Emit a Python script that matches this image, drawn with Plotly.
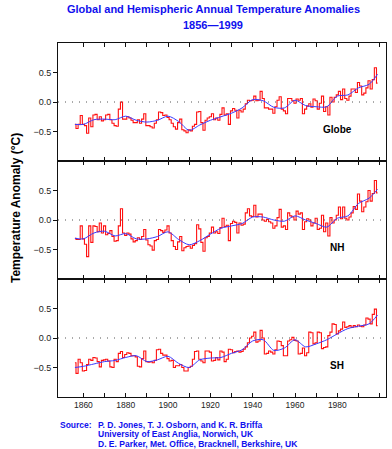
import plotly.graph_objects as go

YEARS = list(range(1856, 2000))

GLOBE = [-0.38, -0.45, -0.38, -0.23, -0.38, -0.40, -0.53, -0.27, -0.42, -0.22,
         -0.21, -0.30, -0.25, -0.32, -0.30, -0.22, -0.21, -0.30, -0.36, -0.40,
         -0.41, -0.12, 0.00, -0.29, -0.29, -0.25, -0.27, -0.31, -0.35, -0.35,
         -0.30, -0.36, -0.29, -0.20, -0.40, -0.40, -0.42, -0.44, -0.36, -0.30,
         -0.17, -0.18, -0.23, -0.22, -0.26, -0.30, -0.36, -0.42, -0.46, -0.35,
         -0.29, -0.47, -0.49, -0.52, -0.47, -0.49, -0.41, -0.38, -0.17, -0.16,
         -0.35, -0.48, -0.31, -0.27, -0.25, -0.20, -0.30, -0.27, -0.31, -0.21,
         -0.10, -0.22, -0.20, -0.38, -0.15, -0.11, -0.14, -0.27, -0.14, -0.17,
         -0.12, -0.03, 0.03, 0.02, 0.03, 0.10, 0.02, 0.03, 0.18, 0.06,
         -0.10, -0.10, -0.12, -0.12, -0.19, -0.08, 0.03, 0.09, -0.12, -0.15,
         -0.20, 0.06, 0.06, 0.02, -0.02, 0.05, 0.03, 0.06, -0.20, -0.12,
         -0.07, -0.03, -0.09, 0.05, 0.02, -0.12, -0.02, 0.10, -0.16, -0.08,
         -0.22, 0.08, 0.00, 0.08, 0.12, 0.18, 0.04, 0.22, 0.06, 0.03,
         0.10, 0.22, 0.22, 0.16, 0.33, 0.27, 0.12, 0.15, 0.24, 0.36,
         0.22, 0.38, 0.58, 0.32]

NH = [-0.31, -0.33, -0.33, -0.10, -0.32, -0.41, -0.62, -0.10, -0.38, -0.10,
      -0.11, -0.20, -0.05, -0.22, -0.10, -0.25, -0.23, -0.18, -0.28, -0.36,
      -0.35, -0.10, 0.19, -0.22, -0.26, -0.22, -0.24, -0.32, -0.37, -0.35,
      -0.30, -0.33, -0.28, -0.16, -0.34, -0.42, -0.44, -0.51, -0.35, -0.33,
      -0.16, -0.18, -0.21, -0.17, -0.10, -0.22, -0.35, -0.45, -0.50, -0.37,
      -0.28, -0.52, -0.47, -0.45, -0.44, -0.48, -0.43, -0.40, -0.08, -0.15,
      -0.38, -0.53, -0.30, -0.28, -0.22, -0.12, -0.22, -0.20, -0.23, -0.13,
      0.03, -0.11, -0.09, -0.35, -0.06, -0.02, -0.04, -0.22, -0.05, -0.09,
      -0.07, 0.12, 0.19, 0.07, 0.06, 0.25, 0.05, 0.10, 0.10, 0.00,
      -0.02, 0.01, -0.03, -0.05, -0.14, -0.10, 0.04, 0.18, -0.12, -0.10,
      -0.16, 0.12, 0.07, 0.05, 0.00, 0.15, 0.10, 0.12, -0.16, -0.03,
      0.02, 0.00, -0.10, -0.05, 0.03, -0.16, -0.14, 0.08, -0.20, -0.05,
      -0.27, 0.04, -0.05, 0.00, 0.08, 0.22, 0.02, 0.22, 0.03, 0.00,
      0.05, 0.12, 0.23, 0.18, 0.44, 0.32, 0.14, 0.22, 0.31, 0.50,
      0.32, 0.45, 0.67, 0.46]

SH = [-0.42, -0.60, -0.36, -0.42, -0.56, -0.55, -0.45, -0.36, -0.38, -0.33,
      -0.34, -0.40, -0.49, -0.38, -0.37, -0.36, -0.39, -0.49, -0.50, -0.36,
      -0.40, -0.26, -0.23, -0.33, -0.28, -0.25, -0.26, -0.30, -0.30, -0.32,
      -0.48, -0.49, -0.35, -0.22, -0.40, -0.41, -0.40, -0.42, -0.38, -0.20,
      -0.19, -0.26, -0.29, -0.29, -0.35, -0.39, -0.38, -0.50, -0.47, -0.47,
      -0.45, -0.50, -0.56, -0.56, -0.50, -0.48, -0.36, -0.23, -0.22, -0.36,
      -0.39, -0.42, -0.22, -0.22, -0.24, -0.39, -0.38, -0.33, -0.37, -0.22,
      -0.24, -0.40, -0.36, -0.19, -0.20, -0.25, -0.23, -0.22, -0.24, -0.23,
      -0.19, -0.15, -0.08, 0.00, 0.03, 0.10, -0.07, -0.05, 0.13, 0.00,
      -0.27, -0.26, -0.22, -0.24, -0.27, -0.20, -0.05, -0.06, -0.13, -0.30,
      -0.30, -0.05, -0.03, 0.01, -0.04, -0.05, -0.27, -0.26, -0.17, -0.30,
      -0.25, 0.10, 0.09, -0.10, -0.08, 0.10, 0.09, -0.18, -0.16, -0.15,
      0.04, 0.10, 0.24, 0.23, 0.07, 0.12, 0.15, 0.27, 0.18, 0.19,
      0.21, 0.18, 0.21, 0.19, 0.22, 0.20, 0.19, 0.22, 0.34, 0.32,
      0.24, 0.40, 0.49, 0.21]

SMOOTH_YEARS = [1856, 1860, 1865, 1870, 1875, 1880, 1885, 1890, 1895, 1900,
                1905, 1910, 1915, 1920, 1925, 1930, 1935, 1940, 1945, 1950,
                1955, 1960, 1965, 1970, 1975, 1980, 1985, 1990, 1995, 1999]
GLOBE_SMOOTH = [-0.38, -0.38, -0.30, -0.29, -0.30, -0.24, -0.31, -0.34, -0.31, -0.24,
                -0.33, -0.48, -0.39, -0.31, -0.25, -0.19, -0.10, 0.04, 0.02, -0.09,
                -0.10, 0.03, -0.06, -0.08, -0.08, 0.10, 0.12, 0.24, 0.30, 0.47]
NH_SMOOTH = [-0.31, -0.32, -0.22, -0.19, -0.27, -0.23, -0.32, -0.32, -0.28, -0.20,
             -0.33, -0.42, -0.35, -0.24, -0.14, -0.10, -0.06, 0.05, 0.05, 0.00,
             -0.02, 0.07, 0.00, -0.06, -0.12, 0.03, 0.07, 0.28, 0.37, 0.52]
SH_SMOOTH = [-0.50, -0.48, -0.44, -0.40, -0.38, -0.33, -0.30, -0.40, -0.37, -0.31,
             -0.43, -0.50, -0.37, -0.34, -0.33, -0.26, -0.20, -0.05, -0.03, -0.21,
             -0.17, -0.03, -0.15, -0.10, -0.03, 0.07, 0.16, 0.20, 0.24, 0.39]

PANELS = ["Globe", "NH", "SH"]
X_TICKS = [1860, 1870, 1880, 1890, 1900, 1910, 1920, 1930, 1940, 1950, 1960, 1970, 1980, 1990, 2000]
X_LABELS = ["1860", "", "1880", "", "1900", "", "1920", "", "1940", "", "1960", "", "1980", "", ""]
Y_TICKS = [-0.5, 0.0, 0.5]
Y_LABELS = ["\u22120.5", "0.0", "0.5"]
TITLE_LINES = ["Global and Hemispheric Annual Temperature Anomalies", "1856\u20141999"]
Y_TITLE = "Temperature Anomaly (\u00b0C)"
SOURCE_HEAD = "Source:"
SOURCE_LINES = ["P. D. Jones, T. J. Osborn, and K. R. Briffa",
                "University of East Anglia, Norwich, UK",
                "D. E. Parker, Met. Office, Bracknell, Berkshire, UK"]

FONT = "Liberation Sans, Arial, sans-serif"
RED = "#ff1010"
BLUE = "#3a3aff"
TEXT_BLUE = "#1010ee"

W, H = 392, 449
PL, PR, PT, PB = 58, 6, 43, 52
PW, PH = W - PL - PR, H - PT - PB


def px(xp):
    return (xp - PL) / PW


def py(yp):
    return (PT + PH - yp) / PH


fig = go.Figure()

series = [(GLOBE, GLOBE_SMOOTH), (NH, NH_SMOOTH), (SH, SH_SMOOTH)]
domains = [[2 / 3, 1.0], [1 / 3, 2 / 3], [0.0, 1 / 3]]

for i, (annual, smooth) in enumerate(series):
    sfx = "" if i == 0 else str(i + 1)
    fig.add_trace(go.Scatter(x=YEARS, y=annual, mode="lines",
                             line=dict(color=RED, width=1.1, shape="hvh"),
                             xaxis="x" + sfx, yaxis="y" + sfx, showlegend=False))
    fig.add_trace(go.Scatter(x=SMOOTH_YEARS, y=smooth, mode="lines",
                             line=dict(color=BLUE, width=1, shape="spline", smoothing=0.8),
                             xaxis="x" + sfx, yaxis="y" + sfx, showlegend=False))

layout = dict(
    width=W, height=H,
    margin=dict(l=PL, r=PR, t=PT, b=PB),
    paper_bgcolor="white", plot_bgcolor="white",
    font=dict(family=FONT, size=9, color="#222222"),
    showlegend=False,
)

for i in range(3):
    sfx = "" if i == 0 else str(i + 1)
    xa = dict(
        range=[1848, 2003], anchor="y" + sfx,
        showline=True, linecolor="#111111", linewidth=1, mirror="ticks",
        ticks="inside", ticklen=4, tickcolor="#111111",
        tickvals=X_TICKS, ticktext=X_LABELS, showticklabels=(i == 2),
        tickfont=dict(size=8.5, color="#222222"),
        showgrid=False, zeroline=False,
    )
    if i > 0:
        xa["matches"] = "x"
    layout["xaxis" + sfx] = xa
    layout["yaxis" + sfx] = dict(
        domain=domains[i], range=[-1.0, 1.0], anchor="x" + sfx,
        showline=True, linecolor="#111111", linewidth=1, mirror=True,
        ticks="outside", ticklen=4, tickcolor="#111111",
        tickvals=Y_TICKS, ticktext=Y_LABELS,
        tickfont=dict(size=9, color="#222222"),
        showgrid=False, zeroline=False,
    )
    layout["yaxis" + str(i + 4)] = dict(
        overlaying="y" + sfx, side="right", anchor="x" + sfx,
        range=[-1.0, 1.0], ticks="inside", ticklen=4, tickcolor="#111111",
        tickvals=Y_TICKS, showticklabels=False, showline=False,
        showgrid=False, zeroline=False,
    )

fig.update_layout(**layout)

for i, name in enumerate(PANELS):
    sfx = "" if i == 0 else str(i + 1)
    fig.add_shape(type="line", xref="x" + sfx + " domain", yref="y" + sfx,
                  x0=0, x1=1, y0=0, y1=0,
                  line=dict(color="#555555", width=1, dash="1px,6px"))
    fig.add_annotation(x=1980, y=-0.47, xref="x" + sfx, yref="y" + sfx,
                       text="<b>" + name + "</b>", showarrow=False,
                       font=dict(family=FONT, size=10, color="#000000"))

# Title
for k, line in enumerate(TITLE_LINES):
    fig.add_annotation(x=px(213), y=py(9.5 + 15 * k), xref="paper", yref="paper",
                       text="<b>" + line + "</b>", showarrow=False,
                       font=dict(family=FONT, size=11, color=TEXT_BLUE),
                       xanchor="center", yanchor="middle")

# Y-axis title
fig.add_annotation(x=px(16), y=py(208), xref="paper", yref="paper",
                   text="<b>" + Y_TITLE + "</b>", textangle=-90,
                   showarrow=False, font=dict(family=FONT, size=12, color="#000000"),
                   xanchor="center", yanchor="middle")

# Source lines
SRC_SIZE = 8.5
SRC_Y = [424.5, 434, 443.5]
fig.add_annotation(x=px(59), y=py(SRC_Y[0]), xref="paper", yref="paper",
                   text="<b>" + SOURCE_HEAD + "</b>", showarrow=False,
                   font=dict(family=FONT, size=SRC_SIZE, color=TEXT_BLUE),
                   xanchor="left", yanchor="middle", borderpad=0)
for k, line in enumerate(SOURCE_LINES):
    fig.add_annotation(x=px(97), y=py(SRC_Y[k]), xref="paper", yref="paper",
                       text="<b>" + line + "</b>", showarrow=False,
                       font=dict(family=FONT, size=SRC_SIZE, color=TEXT_BLUE),
                       xanchor="left", yanchor="middle", borderpad=0)

fig.write_html("out.html",
               config={"displayModeBar": False},
               post_script="document.body.style.margin='0';document.body.style.overflow='hidden';")
